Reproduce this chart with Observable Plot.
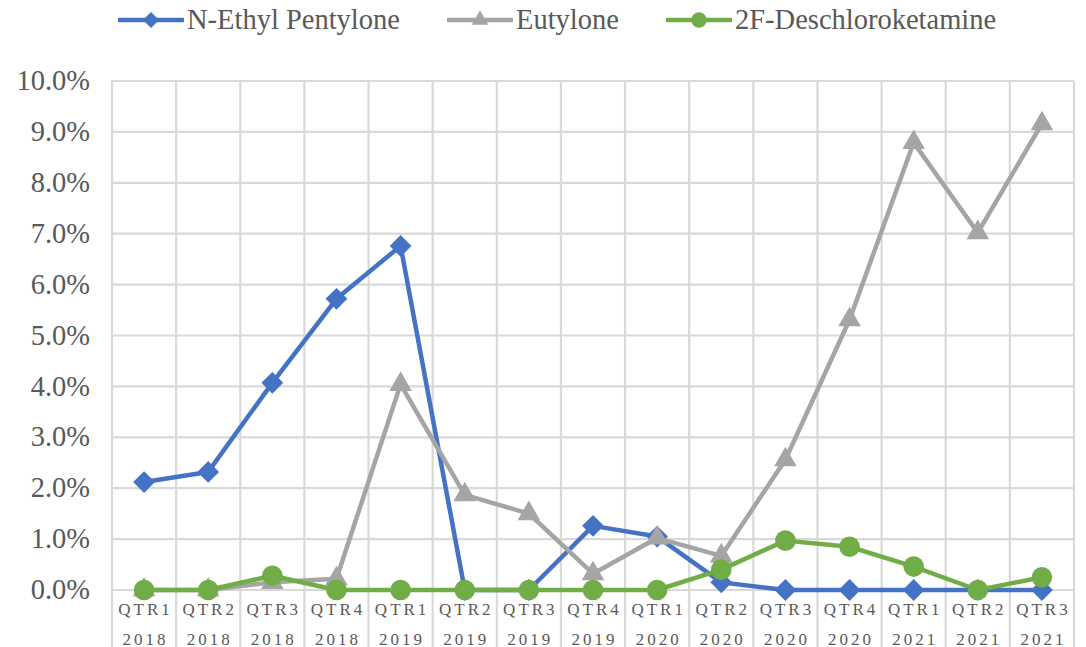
<!DOCTYPE html>
<html><head><meta charset="utf-8">
<script src="https://cdn.jsdelivr.net/npm/d3@7"></script>
<script src="https://cdn.jsdelivr.net/npm/@observablehq/plot@0.6"></script>
<style>
body{margin:0;background:#fff;}
#legend{position:relative;height:40px;width:1086px;}
.item{position:absolute;top:0;height:40px;display:flex;align-items:center;white-space:nowrap;}
.item svg{margin-right:3px;display:block}
.item span{font-family:"Liberation Serif","Times New Roman",serif;font-size:28.5px;color:#595959;}
</style></head><body>
<div id="legend"></div><div id="chart"></div>
<script>
const quarters = ["QTR1","QTR2","QTR3","QTR4","QTR1","QTR2","QTR3","QTR4","QTR1","QTR2","QTR3","QTR4","QTR1","QTR2","QTR3"];
const years = ["2018","2018","2018","2018","2019","2019","2019","2019","2020","2020","2020","2020","2021","2021","2021"];
const nEthylPentylone = [2.12, 2.32, 4.07, 5.72, 6.76, 0, 0, 1.26, 1.05, 0.15, 0, 0, 0, 0, 0];
const eutylone = [0, 0, 0.15, 0.22, 4.04, 1.87, 1.5, 0.32, 1.02, 0.67, 2.56, 5.31, 8.79, 7.02, 9.16];
const deschloroketamine = [0, 0, 0.28, 0, 0, 0, 0, 0, 0, 0.40, 0.97, 0.85, 0.46, 0, 0.25];
const yTicks = [0,1,2,3,4,5,6,7,8,9,10];
const serif = '"Liberation Serif","Times New Roman",serif';

const series = [
  {name:"N-Ethyl Pentylone", values:nEthylPentylone, color:"#4472C4", symbol:"diamond2", r:9.8, left:118},
  {name:"Eutylone", values:eutylone, color:"#A5A5A5", symbol:"triangle", r:8.4, left:447},
  {name:"2F-Deschloroketamine", values:deschloroketamine, color:"#70AD47", symbol:"circle", r:10.3, left:666}
];
const symMap = {diamond2:d3.symbolDiamond2, triangle:d3.symbolTriangle, circle:d3.symbolCircle};

// legend
const legend = d3.select("#legend");
series.forEach(s => {
  const item = legend.append("div").attr("class","item").style("left", s.left + "px");
  const sv = item.append("svg").attr("width",66).attr("height",40);
  sv.append("line").attr("x1",1).attr("x2",65).attr("y1",20).attr("y2",20)
    .attr("stroke",s.color).attr("stroke-width",4.5).attr("stroke-linecap","round");
  sv.append("path").attr("transform","translate(33,20)")
    .attr("d", d3.symbol(symMap[s.symbol], Math.PI*s.r*s.r*0.55)()).attr("fill",s.color);
  item.append("span").style("font-family", serif).text(s.name);
});

const data = quarters.map((q,i) => ({i, q, yr:years[i]}));
const marks = [
  Plot.ruleY(yTicks, {stroke:"#D9D9D9", strokeWidth:2.2}),
  Plot.ruleX(d3.range(-0.5, 15, 1), {stroke:"#D9D9D9", strokeWidth:2.2}),
  Plot.axisY(yTicks, {tickFormat: d => d.toFixed(1) + "%", tickSize:0, tickPadding:22, fontSize:28.5, label:null}),
  Plot.text(data, {x:"i", y:0, text:"q", dy:19.5, dx:1.5, fontSize:17, fill:"#595959", fontFamily:serif}),
  Plot.text(data, {x:"i", y:0, text:"yr", dy:49.5, dx:1.5, fontSize:17, fill:"#595959", fontFamily:serif})
];
series.forEach(s => {
  const d = s.values.map((v,i) => ({i, v}));
  marks.push(Plot.line(d, {x:"i", y:"v", stroke:s.color, strokeWidth:4.5, strokeLinejoin:"round"}));
  marks.push(Plot.dot(d, {x:"i", y:"v", symbol:s.symbol, r:s.r, fill:s.color, stroke:"none"}));
});

const chart = Plot.plot({
  width:1086, height:607,
  marginLeft:111.5, marginRight:12.5, marginTop:40.5, marginBottom:0,
  x:{domain:[-0.5,14.5], axis:null},
  y:{domain:[0,10], range:[549.5,40.5]},
  style:{fontFamily:serif, color:"#595959", background:"white", overflow:"visible"},
  marks
});
d3.select(chart).selectAll("text").filter(function(){ return /^(QTR\d|\d{4})$/.test(this.textContent); })
  .style("letter-spacing","3px").style("font-family", serif);
document.getElementById("chart").appendChild(chart);
</script>
</body></html>
